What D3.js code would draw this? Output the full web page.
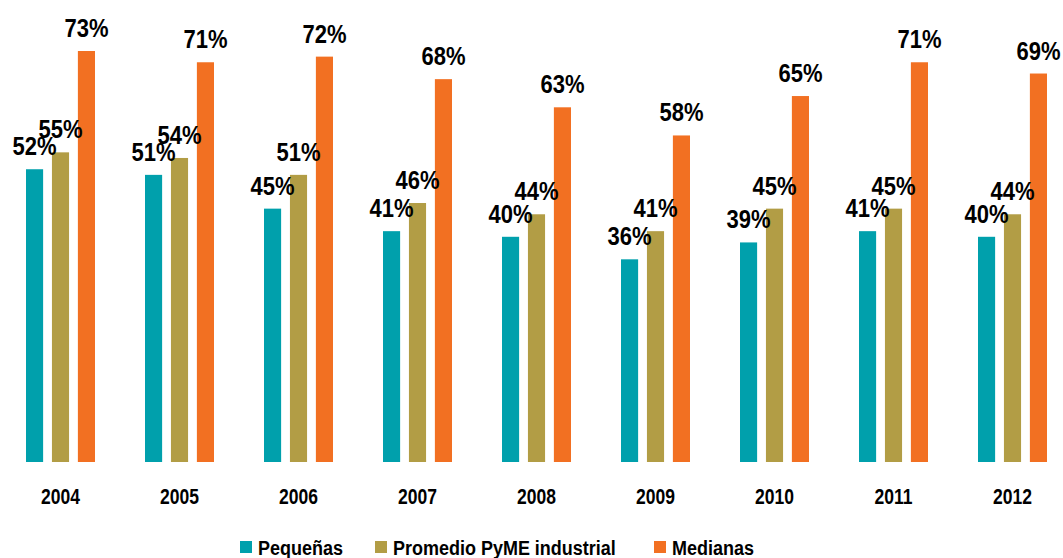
<!DOCTYPE html>
<html>
<head>
<meta charset="utf-8">
<script src="https://cdn.jsdelivr.net/npm/d3@7"></script>
<style>
  body { margin: 0; background: #fff; }
  svg { display: block; font-family: Arial, "Liberation Sans", sans-serif; }
</style>
</head>
<body>
<svg id="chart" width="1063" height="558"></svg>
<script>
const years = ["2004", "2005", "2006", "2007", "2008", "2009", "2010", "2011", "2012"];
const seriesNames = ["Pequeñas", "Promedio PyME industrial", "Medianas"];
const pequenas = [52, 51, 45, 41, 40, 36, 39, 41, 40];
const promedio = [55, 54, 51, 46, 44, 41, 45, 45, 44];
const medianas = [73, 71, 72, 68, 63, 58, 65, 71, 69];
const colors = ["#00a0ac", "#b29d45", "#f27022"];

const svg = d3.select("#chart");
const baseline = 462;

const values = [pequenas, promedio, medianas];

const x0 = d3.scaleBand()
  .domain(years)
  .range([26, 1047])
  .paddingInner(50 / 119)
  .paddingOuter(0);

const x1 = d3.scaleBand()
  .domain(seriesNames)
  .range([0, x0.bandwidth()])
  .paddingInner(0.34)
  .paddingOuter(0);

const y = d3.scaleLinear()
  .domain([0, 73])
  .range([baseline, 51]);

const color = d3.scaleOrdinal().domain(seriesNames).range(colors);

const rows = years.map((yr, i) => ({
  year: yr,
  items: seriesNames.map((s, j) => ({ series: s, value: values[j][i] }))
}));

const group = svg.append("g")
  .selectAll("g")
  .data(rows)
  .enter().append("g")
  .attr("transform", d => `translate(${x0(d.year)},0)`);

group.selectAll("rect")
  .data(d => d.items)
  .enter().append("rect")
  .attr("x", d => x1(d.series))
  .attr("y", d => y(d.value))
  .attr("width", x1.bandwidth())
  .attr("height", d => baseline - y(d.value))
  .attr("fill", d => color(d.series));

// value labels, drawn after bars so they sit on top
group.selectAll("text.val")
  .data(d => d.items)
  .enter().append("text")
  .attr("class", "val")
  .attr("transform", d => `translate(${x1(d.series) + x1.bandwidth() / 2},${y(d.value) - 14}) scale(1,1.15)`)
  .attr("text-anchor", "middle")
  .attr("font-size", 22)
  .attr("font-weight", "bold")
  .attr("fill", "#000")
  .text(d => d.value + "%");

// year axis labels
svg.append("g")
  .selectAll("text")
  .data(years)
  .enter().append("text")
  .attr("transform", d => `translate(${x0(d) + x0.bandwidth() / 2},504) scale(1,1.22)`)
  .attr("text-anchor", "middle")
  .attr("font-size", 17.5)
  .attr("font-weight", "bold")
  .attr("fill", "#000")
  .text(d => d);

// legend
const legendX = [240, 375, 654];
const legend = svg.append("g")
  .selectAll("g")
  .data(seriesNames)
  .enter().append("g")
  .attr("transform", (d, i) => `translate(${legendX[i]},0)`);

legend.append("rect")
  .attr("x", 0)
  .attr("y", 541)
  .attr("width", 12)
  .attr("height", 12)
  .attr("fill", d => color(d));

legend.append("text")
  .attr("transform", "translate(18,555) scale(1,1.15)")
  .attr("font-size", 18)
  .attr("font-weight", "bold")
  .attr("fill", "#000")
  .text(d => d);
</script>
</body>
</html>
